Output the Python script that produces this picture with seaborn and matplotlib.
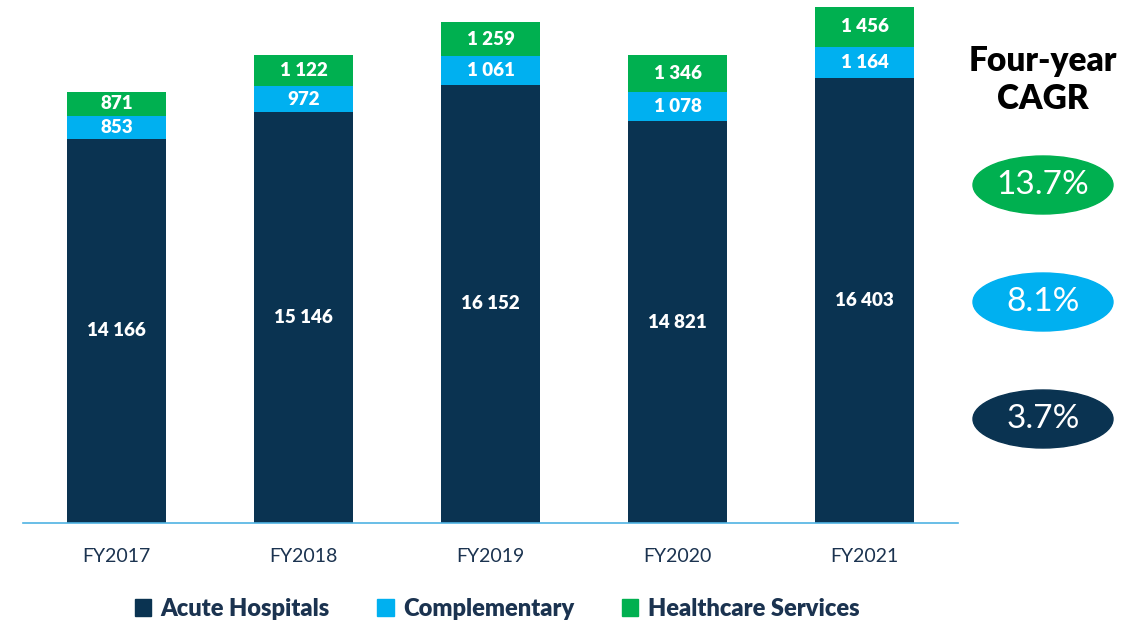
import pandas as pd
import matplotlib.pyplot as plt
import seaborn as sns
from matplotlib.patches import Ellipse, Patch

# data
years = ["FY2017", "FY2018", "FY2019", "FY2020", "FY2021"]
acute = [14166, 15146, 16152, 14821, 16403]
complementary = [853, 972, 1061, 1078, 1164]
healthcare = [871, 1122, 1259, 1346, 1456]
series_names = ["Acute Hospitals", "Complementary", "Healthcare Services"]
cagr_labels = ["13.7%", "8.1%", "3.7%"]

navy = "#0A3351"
cyan = "#00B0F0"
green = "#00B050"
text_col = "#1B3350"

sns.set_theme(style="white")
plt.rcParams['font.family'] = ['Lato', 'DejaVu Sans']

df = pd.DataFrame({"year": years, "acute": acute,
                   "comp": complementary, "health": healthcare})
df["lvl2"] = df["acute"] + df["comp"]
df["total"] = df["lvl2"] + df["health"]

fig = plt.figure(figsize=(11.45, 6.23), dpi=100)
ax = fig.add_axes([23 / 1145, 100 / 623, 935 / 1145, 523 / 623])

w = 0.525
for col, c in [("total", green), ("lvl2", cyan), ("acute", navy)]:
    sns.barplot(data=df, x="year", y=col, color=c, width=w, saturation=1,
                linewidth=0, edgecolor="none", ax=ax)

def fmt(v):
    return f"{v:,}".replace(",", " ")

for i, row in df.iterrows():
    ax.text(i, row["acute"] / 2, fmt(row["acute"]), ha="center", va="center",
            color="white", fontsize=13.5, fontweight="heavy")
    ax.text(i, row["acute"] + row["comp"] / 2, fmt(row["comp"]), ha="center",
            va="center", color="white", fontsize=13.5, fontweight="heavy")
    ax.text(i, row["lvl2"] + row["health"] / 2, fmt(row["health"]), ha="center",
            va="center", color="white", fontsize=13.5, fontweight="heavy")

ax.set_xlim(-0.5, 4.5)
ax.set_ylim(0, 19284)
ax.set_xlabel("")
ax.set_ylabel("")
ax.set_yticks([])
for s in ["top", "right", "left"]:
    ax.spines[s].set_visible(False)
ax.spines["bottom"].set_color("#4FB3E3")
ax.spines["bottom"].set_linewidth(1.2)
ax.tick_params(axis="x", length=0, pad=18, labelsize=14, labelcolor=text_col)

# legend
handles = [Patch(color=c) for c in [navy, cyan, green]]
leg = fig.legend(handles, series_names, loc="center", bbox_to_anchor=(497 / 1145, 1 - 609 / 623),
                 ncol=3, frameon=False, handlelength=0.7, handleheight=0.7,
                 handletextpad=0.4, columnspacing=2.0,
                 prop={"size": 17, "weight": "heavy"})
for t in leg.get_texts():
    t.set_color(text_col)

# CAGR side panel
fig.text(1043 / 1145, 1 - 80 / 623, "Four-year\nCAGR", ha="center", va="center",
         fontsize=24, fontweight="heavy", color="black", linespacing=1.2)
for lab, col, yc in zip(cagr_labels, [green, cyan, navy], [185, 302, 419]):
    e = Ellipse((10.43, (623 - yc) / 100), 1.40, 0.58, color=col,
                transform=fig.dpi_scale_trans)
    fig.add_artist(e)
    fig.text(1043 / 1145, 1 - yc / 623, lab, ha="center", va="center",
             fontsize=24, color="white")

plt.savefig("out.png", dpi=100)
